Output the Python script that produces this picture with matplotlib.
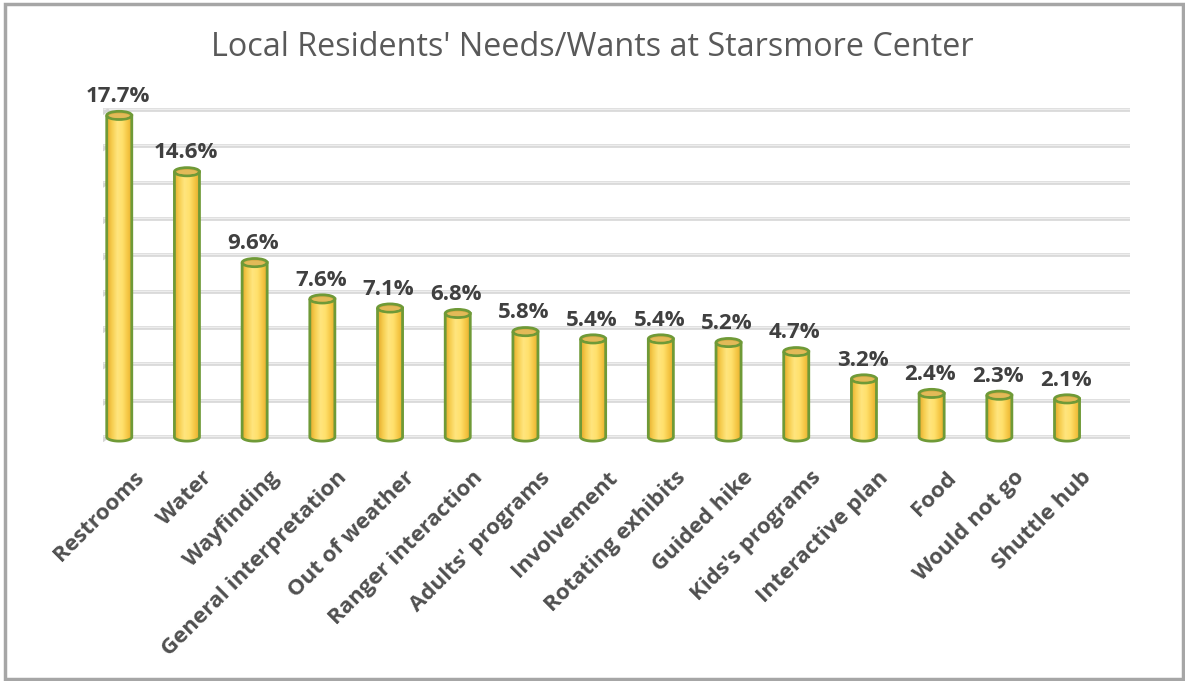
"""
Local residents' needs/wants chart, drawn as Excel-style 3D cylinders.
"""
import numpy as np
import matplotlib
matplotlib.use('Agg')
import matplotlib.pyplot as plt
from matplotlib.colors import LinearSegmentedColormap
from matplotlib.patches import Ellipse, PathPatch, Rectangle
from matplotlib.path import Path

categories = ['Restrooms', 'Water', 'Wayfinding', 'General interpretation',
              'Out of weather', 'Ranger interaction', "Adults' programs",
              'Involvement', 'Rotating exhibits', 'Guided hike',
              "Kids's programs", 'Interactive plan', 'Food', 'Would not go',
              'Shuttle hub']
values = [17.7, 14.6, 9.6, 7.6, 7.1, 6.8, 5.8, 5.4, 5.4, 5.2, 4.7, 3.2, 2.4, 2.3, 2.1]
grid_levels = np.arange(0, 19, 2)

title = "Local Residents' Needs/Wants at Starsmore Center"

EDGE = '#6F9A37'
TEXT = '#404040'
body_cmap = LinearSegmentedColormap.from_list(
    'cyl', ['#E6AC2C', '#F7CF52', '#FFE57E', '#FFE06C', '#F5C745', '#E4AA2A'])

plt.rcParams['font.family'] = ['Open Sans', 'DejaVu Sans']

fig = plt.figure(figsize=(11.85, 6.81), dpi=100)
ax = fig.add_axes([103 / 1185, 1 - 444.3 / 681, (1130 - 103) / 1185, (444.3 - 104.5) / 681])
ax.set_xlim(-0.24, 14.93)
ax.set_ylim(-0.4, 18.3)
ax.axis('off')

# back wall gridlines
for g in grid_levels:
    ax.hlines(g, -0.24, 14.93, color='#D6D6D6', lw=2.6, zorder=1)
    ax.hlines(g + 0.06, -0.24, 14.93, color='#EDEDED', lw=1.0, zorder=1)
    ax.plot([-0.24, -0.17], [g - 0.2, g], color='#D6D6D6', lw=2.0, zorder=1,
            solid_capstyle='round')

w = 0.37   # cylinder width in x units
h = 0.45   # ellipse height in y units
grad = np.linspace(0, 1, 64).reshape(1, -1)

for i, (cat, v) in enumerate(zip(categories, values)):
    x0, x1 = i - w / 2, i + w / 2
    # body outline: left side down, bottom front arc, right side up
    t = np.linspace(np.pi, 2 * np.pi, 40)
    arc_x = i + (w / 2) * np.cos(t)
    arc_y = (h / 2) * np.sin(t)
    verts = [(x0, v)] + list(zip(arc_x, arc_y)) + [(x1, v), (x0, v)]
    path = Path(verts)
    body = PathPatch(path, facecolor='none', edgecolor=EDGE, lw=2.0, zorder=4)
    ax.add_patch(body)
    img = ax.imshow(grad, cmap=body_cmap, aspect='auto',
                    extent=(x0, x1, -h / 2, v), zorder=3, interpolation='bilinear')
    img.set_clip_path(body)
    # top cap
    cap = Ellipse((i, v), w, h, facecolor='#D8AC45', edgecolor=EDGE, lw=2.0, zorder=5)
    ax.add_patch(cap)
    inner = Ellipse((i, v - 0.02), w * 0.8, h * 0.55, facecolor='#E2BA58',
                    edgecolor='none', zorder=5)
    ax.add_patch(inner)

    ax.annotate(f'{v:.1f}%', xy=(i, v), xytext=(-1, 6), textcoords='offset points',
                ha='center', va='bottom', fontsize=16, fontweight='bold', color=TEXT)
    ax.annotate(cat, xy=(i, 0), xytext=(15.5, -27), textcoords='offset points',
                ha='right', va='center', rotation=45, rotation_mode='anchor',
                fontsize=16, fontweight='bold', color='#505050')

fig.text(0.5, 1 - 48 / 681, title, ha='center', va='center',
         fontsize=23.3, color='#595959')

fig.patches.append(Rectangle((4.5 / 1185, 2.5 / 681), 1178.5 / 1185, 674.5 / 681,
                             transform=fig.transFigure, fill=False,
                             edgecolor='#A6A6A6', lw=2.5))

fig.savefig('out.png', dpi=100)
